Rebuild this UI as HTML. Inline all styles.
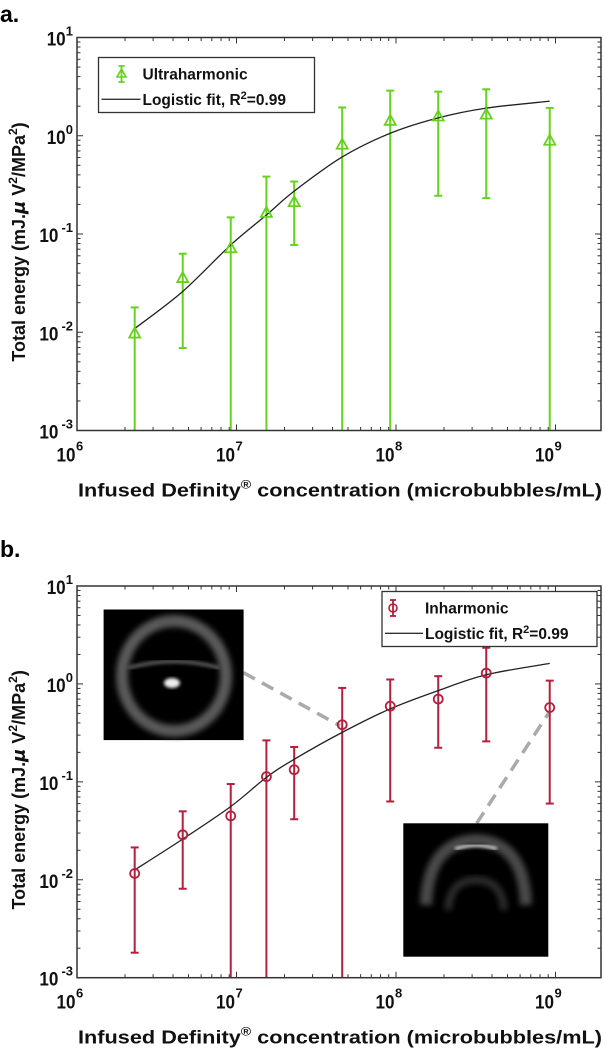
<!DOCTYPE html>
<html><head><meta charset="utf-8">
<style>
html,body{margin:0;padding:0;background:#fff;}
svg{display:block;font-family:"Liberation Sans",Arial,sans-serif;}
</style></head>
<body>
<svg id="fig" width="606" height="1050" viewBox="0 0 606 1050" xmlns="http://www.w3.org/2000/svg">
<defs>
<filter id="blur1" x="-20%" y="-20%" width="140%" height="140%"><feGaussianBlur stdDeviation="3"/></filter>
<filter id="blur2" x="-20%" y="-20%" width="140%" height="140%"><feGaussianBlur stdDeviation="1.5"/></filter>
</defs>
<text x="0" y="22" font-size="23" font-weight="bold">a.</text>
<text x="0" y="557" font-size="23" font-weight="bold">b.</text>
<g id="pa"></g>
<g id="pb"></g>
</svg>
<script>
// ---- shared data ----
const conc = [2.3e6, 4.6e6, 9.2e6, 1.54e7, 2.3e7, 4.6e7, 9.2e7, 1.84e8, 3.68e8, 9.2e8];
const xTickExps = ["6","7","8","9"];
const yTickExps = ["1","0","-1","-2","-3"];
// ---- panel a: ultraharmonic ----
const ultraMean = [0.0097, 0.0356, 0.0716, 0.164, 0.211, 0.81, 1.42, 1.57, 1.64, 0.89];
const ultraUpper = [0.0179, 0.063, 0.1476, 0.384, 0.342, 1.94, 2.88, 2.81, 2.97, 1.92];
const ultraLower = [0.0009, 0.0069, 0.0001, 0.0001, 0.0774, 0.0001, 0.0001, 0.245, 0.232, 0.0001];
const ultraFit = [0.0109, 0.026, 0.0774, 0.156, 0.273, 0.608, 1.06, 1.52, 1.91, 2.25];
// ---- panel b: inharmonic ----
const inharMean = [0.0116, 0.0288, 0.0449, 0.113, 0.133, 0.383, 0.593, 0.70, 1.29, 0.574];
const inharUpper = [0.0214, 0.050, 0.095, 0.265, 0.227, 0.91, 1.11, 1.20, 2.34, 1.08];
const inharLower = [0.0018, 0.0081, 0.0001, 0.0001, 0.0415, 0.0001, 0.063, 0.223, 0.259, 0.060];
const inharFit = [0.0126, 0.026, 0.056, 0.111, 0.17, 0.32, 0.557, 0.855, 1.24, 1.62];

const NS = "http://www.w3.org/2000/svg";
function mk(parent, tag, attrs) {
  const e = document.createElementNS(NS, tag);
  for (const k in attrs) e.setAttribute(k, attrs[k]);
  parent.appendChild(e);
  return e;
}

function drawPanel(g, cfg) {
  const L = 77, R = 601, T = cfg.top, B = cfg.bottom;
  const dec = (B - T) / 4, xdec = 159.5;
  const X = v => L + xdec * (Math.log10(v) - 6);
  const Y = v => T + (1 - Math.log10(v)) * dec;
  const clampY = y => Math.min(B, Math.max(T, y));
  const axisCol = "#333";

  const bg = mk(g, "rect", {x: L, y: T, width: R - L, height: B - T, fill: "#fff"});
  
  

  const tg = mk(g, "g", {stroke: axisCol, "stroke-width": 1});
  
  
  for (let e = 6; e <= 9; e++) {
    for (let m = 1; m <= 9; m++) {
      const v = m * Math.pow(10, e);
      const x = X(v);
      if (x > R) break;
      const len = m === 1 ? 6 : 3.5;
      mk(tg, "line", {x1: x, y1: B, x2: x, y2: B - len});
      mk(tg, "line", {x1: x, y1: T, x2: x, y2: T + len});
    }
  }
  for (let e = -3; e <= 1; e++) {
    for (let m = 1; m <= 9; m++) {
      const v = m * Math.pow(10, e);
      const y = Y(v);
      if (y < T - 0.5) break;
      const len = m === 1 ? 6 : 3.5;
      mk(tg, "line", {x1: L, y1: y, x2: L + len, y2: y});
      mk(tg, "line", {x1: R, y1: y, x2: R - len, y2: y});
    }
  }

  xTickExps.forEach(ex => {
    const x = X(Math.pow(10, +ex));
    const t = mk(g, "text", {x: x - 11, y: B + 31, "font-size": 19, "font-weight": "bold", "text-anchor": "middle", fill: "#111", textLength: 19, lengthAdjust: "spacingAndGlyphs"});
    
    
    t.textContent = "10";
    const s = mk(g, "text", {x: x - 1, y: B + 20, "font-size": 13, "font-weight": "bold", fill: "#111"});
    
    
    s.textContent = ex;
  });
  yTickExps.forEach(ex => {
    const y = Y(Math.pow(10, +ex));
    const sup = mk(g, "text", {x: 73, y: y - 2, "font-size": 13, "font-weight": "bold", "text-anchor": "end", fill: "#111"});
    
    
    sup.textContent = ex;
    const w = ex.length * 7.3;
    const t = mk(g, "text", {x: 73 - w, y: y + 8, "font-size": 19, "font-weight": "bold", "text-anchor": "end", fill: "#111", textLength: 19, lengthAdjust: "spacingAndGlyphs"});
    
    
    t.textContent = "10";
  });

  const xt = mk(g, "text", {x: 78, y: B + 66, "font-size": 18.5, "font-weight": "bold", fill: "#111", textLength: 524, lengthAdjust: "spacingAndGlyphs"});
  
  
  xt.innerHTML = 'Infused Definity<tspan font-size="12" dy="-8">®</tspan><tspan dy="8"> concentration (microbubbles/mL)</tspan>';
  const cy = (T + B) / 2 + 8;
  const yt = mk(g, "text", {x: 0, y: 0, "font-size": 18, "font-weight": "bold", fill: "#111", "text-anchor": "middle", transform: `translate(25 ${cy}) rotate(-90)`});
  
  
  yt.innerHTML = 'Total energy (mJ.<tspan font-style="italic" font-family="DejaVu Sans">μ</tspan> V<tspan font-size="12" dy="-8">2</tspan><tspan dy="8">/MPa</tspan><tspan font-size="12" dy="-8">2</tspan><tspan dy="8">)</tspan>';

  if (cfg.extras) cfg.extras(g);

  const eg = mk(g, "g", {stroke: cfg.color, "stroke-width": 2, fill: "none"});
  
  
  conc.forEach((c, i) => {
    const x = X(c);
    const yu = clampY(Y(cfg.upper[i])), yl = clampY(Y(cfg.lower[i]));
    const ln = mk(eg, "line", {x1: x, y1: yu, x2: x, y2: yl});
    
    
    if (Y(cfg.upper[i]) >= T) mk(eg, "line", {x1: x - 4, y1: yu, x2: x + 4, y2: yu});
    if (Y(cfg.lower[i]) <= B) mk(eg, "line", {x1: x - 4, y1: yl, x2: x + 4, y2: yl});
  });

  const pts = conc.map((c, i) => [X(c), Y(cfg.fit[i])]);
  let d = `M${pts[0][0]},${pts[0][1]}`;
  for (let i = 0; i < pts.length - 1; i++) {
    const p0 = pts[Math.max(0, i - 1)], p1 = pts[i], p2 = pts[i + 1], p3 = pts[Math.min(pts.length - 1, i + 2)];
    const c1 = [p1[0] + (p2[0] - p0[0]) / 6, p1[1] + (p2[1] - p0[1]) / 6];
    const c2 = [p2[0] - (p3[0] - p1[0]) / 6, p2[1] - (p3[1] - p1[1]) / 6];
    d += ` C${c1[0]},${c1[1]} ${c2[0]},${c2[1]} ${p2[0]},${p2[1]}`;
  }
  const fit = mk(g, "path", {d: d, fill: "none", stroke: "#222", "stroke-width": 1.3});
  
  

  conc.forEach((c, i) => {
    const x = X(c), y = Y(cfg.mean[i]);
    let m;
    if (cfg.marker === "tri") {
      m = mk(g, "path", {d: `M${x},${y - 6} L${x + 5.5},${y + 4} L${x - 5.5},${y + 4} Z`, fill: "none", stroke: cfg.color, "stroke-width": 1.8});
    } else {
      m = mk(g, "circle", {cx: x, cy: y, r: 4.5, fill: "none", stroke: cfg.color, "stroke-width": 1.8});
    }
    
    
  });

  const fr = mk(g, "rect", {x: L, y: T, width: R - L, height: B - T, fill: "none", stroke: axisCol, "stroke-width": 1.5});
  
  

  const lg = cfg.legend;
  const lgG = mk(g, "g", {});
  
  
  mk(lgG, "rect", {x: lg.x, y: lg.y, width: lg.w, height: lg.h, fill: "#fff", stroke: "#333", "stroke-width": 1.3});
  const r1 = lg.y + lg.h * 0.3, r2 = lg.y + lg.h * 0.76;
  const mx = lg.x + lg.mx;
  mk(lgG, "line", {x1: mx, y1: r1 - 8, x2: mx, y2: r1 + 8, stroke: cfg.color, "stroke-width": 1.8});
  mk(lgG, "line", {x1: mx - 3, y1: r1 - 8, x2: mx + 3, y2: r1 - 8, stroke: cfg.color, "stroke-width": 1.8});
  mk(lgG, "line", {x1: mx - 3, y1: r1 + 8, x2: mx + 3, y2: r1 + 8, stroke: cfg.color, "stroke-width": 1.8});
  if (cfg.marker === "tri") mk(lgG, "path", {d: `M${mx},${r1 - 5} L${mx + 4.5},${r1 + 3} L${mx - 4.5},${r1 + 3} Z`, fill: "none", stroke: cfg.color, "stroke-width": 1.6});
  else mk(lgG, "circle", {cx: mx, cy: r1, r: 4, fill: "none", stroke: cfg.color, "stroke-width": 1.6});
  mk(lgG, "line", {x1: lg.x + 3, y1: r2, x2: lg.x + lg.tx - 2, y2: r2, stroke: "#333", "stroke-width": 1.3});
  const t1 = mk(lgG, "text", {x: lg.x + lg.tx, y: r1 + 5.5, "font-size": 15.5, "font-weight": "bold", fill: "#111"});
  
  
  t1.textContent = cfg.label;
  const t2 = mk(lgG, "text", {x: lg.x + lg.tx, y: r2 + 5.5, "font-size": 15.5, "font-weight": "bold", fill: "#111"});
  
  
  t2.innerHTML = 'Logistic fit, R<tspan font-size="11" dy="-6">2</tspan><tspan dy="6">=0.99</tspan>';
}

drawPanel(document.getElementById("pa"), {
  top: 37.5, bottom: 430.5, color: "#66d11f", marker: "tri",
  mean: ultraMean, upper: ultraUpper, lower: ultraLower, fit: ultraFit,
  label: "Ultraharmonic",
  legend: {x: 98.5, y: 57.5, w: 216, h: 55, mx: 23, tx: 44}
});

drawPanel(document.getElementById("pb"), {
  top: 586, bottom: 977.7, color: "#b31f3d", marker: "circ",
  mean: inharMean, upper: inharUpper, lower: inharLower, fit: inharFit,
  label: "Inharmonic",
  legend: {x: 382, y: 591.5, w: 215, h: 55, mx: 11, tx: 43},
  extras: function (g) {
    const d1 = mk(g, "line", {x1: 243.5, y1: 672.7, x2: 340, y2: 725.8, stroke: "#aaa", "stroke-width": 3.5, "stroke-dasharray": "13 8"});
    
    
    const d2 = mk(g, "line", {x1: 476.7, y1: 823.3, x2: 549, y2: 712.5, stroke: "#aaa", "stroke-width": 3.5, "stroke-dasharray": "13 8"});
    
    
    const i1 = mk(g, "g", {});
    
    
    mk(i1, "rect", {x: 103.6, y: 609.5, width: 140, height: 130.6, fill: "#000"});
    mk(i1, "ellipse", {cx: 174, cy: 676, rx: 52, ry: 55, fill: "none", stroke: "#5a5a5a", "stroke-width": 12, filter: "url(#blur1)"});
    mk(i1, "path", {d: "M128,668 Q174,655 220,668", fill: "none", stroke: "#555", "stroke-width": 4, filter: "url(#blur2)"});
    mk(i1, "ellipse", {cx: 172, cy: 683, rx: 8, ry: 5, fill: "#eee", filter: "url(#blur2)"});
    const i2 = mk(g, "g", {});
    
    
    mk(i2, "rect", {x: 403.3, y: 823.3, width: 145, height: 133.4, fill: "#000"});
    mk(i2, "path", {d: "M426,905 Q428,842 476,840 Q524,842 526,905", fill: "none", stroke: "#4a4a4a", "stroke-width": 12, filter: "url(#blur1)"});
    mk(i2, "path", {d: "M448,910 Q450,880 476,880 Q502,880 504,910", fill: "none", stroke: "#2a2a2a", "stroke-width": 8, filter: "url(#blur1)"});
    mk(i2, "path", {d: "M455,849 Q476,842 497,849", fill: "none", stroke: "#f2f2f2", "stroke-width": 2.5, filter: "url(#blur2)"});
  }
});
</script>
</body></html>
